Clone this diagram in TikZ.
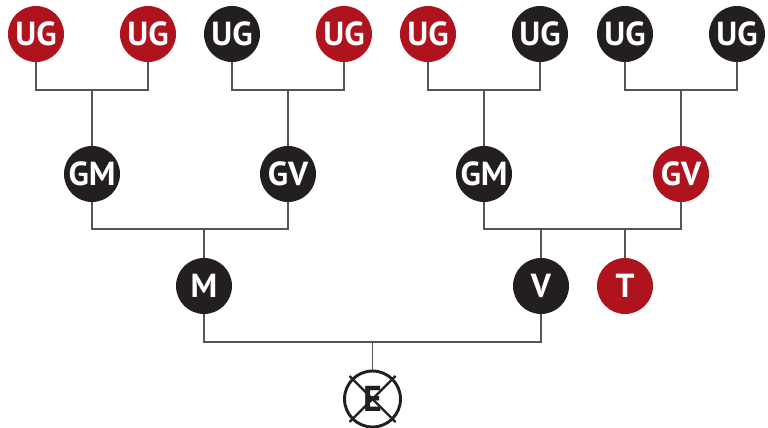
\documentclass[tikz,border=0pt]{standalone}
\usepackage{fontspec}
\setmainfont{PT Sans}
\definecolor{cred}{RGB}{175,20,30}
\definecolor{cblack}{RGB}{35,31,32}
\definecolor{cline}{RGB}{85,85,85}
\begin{document}
\begin{tikzpicture}[x=0.75pt,y=-0.75pt,
  person/.style={circle,minimum size=42pt,inner sep=0pt,text=white,font=\bfseries\fontsize{25}{25}\selectfont},
  redp/.style={person,fill=cred},
  blkp/.style={person,fill=cblack},
  link/.style={draw=cline,line width=1pt}]
\useasboundingbox (0,0) rectangle (768,428);
% top row
\node[redp] (u1) at (36,34) {UG};
\node[redp] (u2) at (148,34) {UG};
\node[blkp] (u3) at (232,34) {UG};
\node[redp] (u4) at (344,34) {UG};
\node[redp] (u5) at (428,34) {UG};
\node[blkp] (u6) at (540,34) {UG};
\node[blkp] (u7) at (625,34) {UG};
\node[blkp] (u8) at (737,34) {UG};
% grandparents
\node[blkp] (g1) at (92,174) {GM};
\node[blkp] (g2) at (288,174) {GV};
\node[blkp] (g3) at (484,174) {GM};
\node[redp] (g4) at (681,174) {GV};
% parents
\node[blkp] (m) at (204,286) {M};
\node[blkp] (v) at (541,286) {V};
\node[redp] (t) at (625,286) {T};
% ego
\node[circle,minimum size=42pt,inner sep=0pt,draw=cblack,line width=2.2pt,fill=white,font=\bfseries\fontsize{27}{27}\selectfont,text=cblack] (e) at (372.5,399) {E};
\draw[cblack,line width=1.6pt] (e.center) ++(-23,-23) -- ++(46,46);
\draw[cblack,line width=1.6pt] (e.center) ++(23,-23) -- ++(-46,46);
% connectors
\draw[link] (u1.south) |- (92,90) -| (u2.south);
\draw[link] (g1.north) -- (92,90);
\draw[link] (u3.south) |- (288,90) -| (u4.south);
\draw[link] (g2.north) -- (288,90);
\draw[link] (u5.south) |- (484,90) -| (u6.south);
\draw[link] (g3.north) -- (484,90);
\draw[link] (u7.south) |- (681,90) -| (u8.south);
\draw[link] (g4.north) -- (681,90);
\draw[link] (g1.south) |- (204,229) -| (g2.south);
\draw[link] (m.north) -- (204,229);
\draw[link] (g3.south) |- (541,229) -| (g4.south);
\draw[link] (v.north) -- (541,229);
\draw[link] (t.north) -- (625,229);
\draw[link] (m.south) |- (372.5,342) -| (v.south);
\draw[link] (e.north) -- (372.5,342);
\end{tikzpicture}
\end{document}
